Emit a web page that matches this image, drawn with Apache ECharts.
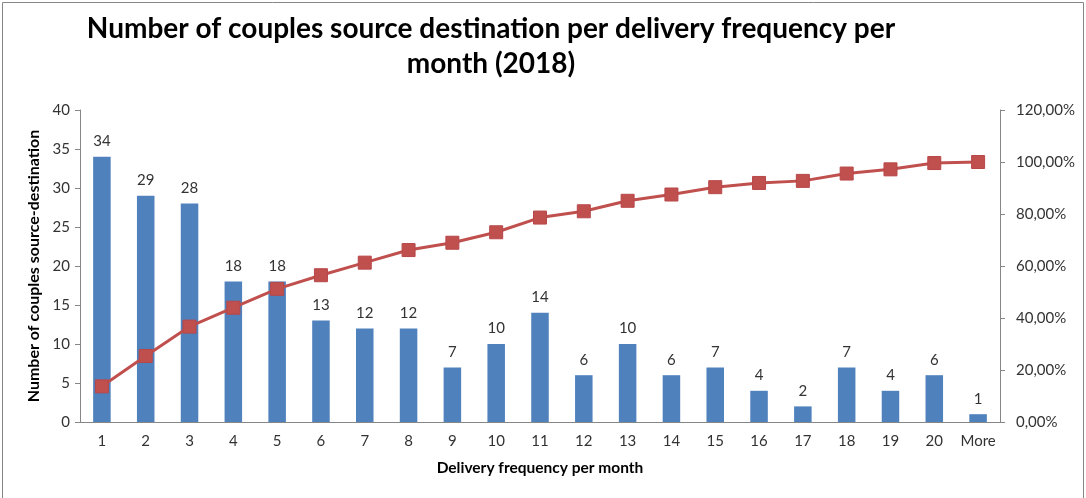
<!DOCTYPE html>
<html>
<head>
<meta charset="utf-8">
<script src="https://cdn.jsdelivr.net/npm/echarts@6/dist/echarts.min.js"></script>
<style>
  html, body { margin: 0; padding: 0; background: #fff; }
  #chart { width: 1086px; height: 498px; }
</style>
</head>
<body>
<div id="chart"></div>
<script>
// categories: delivery frequency per month
const categories = ['1', '2', '3', '4', '5', '6', '7', '8', '9', '10', '11', '12', '13', '14', '15', '16', '17', '18', '19', '20', 'More'];
// number of couples source-destination
const couples = [34, 29, 28, 18, 18, 13, 12, 12, 7, 10, 14, 6, 10, 6, 7, 4, 2, 7, 4, 6, 1];
// cumulative share
const cumulative = [0.1371, 0.2540, 0.3669, 0.4395, 0.5121, 0.5645, 0.6129, 0.6613, 0.6895, 0.7298,
  0.7863, 0.8105, 0.8508, 0.8750, 0.9032, 0.9194, 0.9274, 0.9556, 0.9718, 0.9960, 1.0000];

const font = 'Lato, "Open Sans", sans-serif';
const axisColor = '#868686';
const textColor = '#333333';

const chart = echarts.init(document.getElementById('chart'));

const pctFormat = v => (v * 100).toFixed(2).replace('.', ',') + '%';

chart.setOption({
  animation: false,
  textStyle: { fontFamily: font },
  graphic: [{
    type: 'rect',
    shape: { x: 2.5, y: 2.5, width: 1081, height: 510 },
    style: { fill: 'none', stroke: axisColor, lineWidth: 1 },
    silent: true
  }],
  title: {
    text: 'Number of couples source destination per delivery frequency per\nmonth (2018)',
    left: 486,
    top: 6,
    textAlign: 'center',
    textStyle: {
      fontFamily: font,
      fontSize: 28,
      fontWeight: 'bold',
      color: '#000',
      lineHeight: 35
    }
  },
  grid: { left: 80, right: 86, top: 110, bottom: 76 },
  xAxis: {
    type: 'category',
    data: categories,
    name: 'Delivery frequency per month',
    nameLocation: 'middle',
    nameGap: 38,
    nameTextStyle: { fontFamily: font, fontSize: 15.5, fontWeight: 'bold', color: '#000' },
    axisLine: { lineStyle: { color: axisColor } },
    axisTick: { length: 5, lineStyle: { color: axisColor } },
    axisLabel: { fontFamily: font, fontSize: 15, color: textColor, margin: 12, interval: 0 }
  },
  yAxis: [{
    type: 'value',
    min: 0, max: 40, interval: 5,
    name: 'Number of couples source-destination',
    nameLocation: 'middle',
    nameGap: 37,
    nameTextStyle: { fontFamily: font, fontSize: 16, fontWeight: 'bold', color: '#000' },
    splitLine: { show: false },
    axisLine: { show: true, lineStyle: { color: axisColor } },
    axisTick: { show: true, length: 5, lineStyle: { color: axisColor } },
    axisLabel: { fontFamily: font, fontSize: 15, color: textColor, margin: 10 }
  }, {
    type: 'value',
    min: 0, max: 1.2, interval: 0.2,
    position: 'right',
    splitLine: { show: false },
    axisLine: { show: true, lineStyle: { color: axisColor } },
    axisTick: { show: true, length: 5, lineStyle: { color: axisColor } },
    axisLabel: { fontFamily: font, fontSize: 15, color: textColor, margin: 16, formatter: pctFormat }
  }],
  series: [{
    type: 'bar',
    data: couples,
    barWidth: '40%',
    itemStyle: { color: '#4F81BD' },
    label: {
      show: true,
      position: 'top',
      distance: 8,
      fontFamily: font,
      fontSize: 15,
      color: textColor
    }
  }, {
    type: 'line',
    yAxisIndex: 1,
    data: cumulative,
    symbol: 'rect',
    symbolSize: 13,
    lineStyle: { color: '#C0504D', width: 3 },
    itemStyle: { color: '#C0504D', borderColor: '#B8474A', borderWidth: 1 }
  }]
});
</script>
</body>
</html>
